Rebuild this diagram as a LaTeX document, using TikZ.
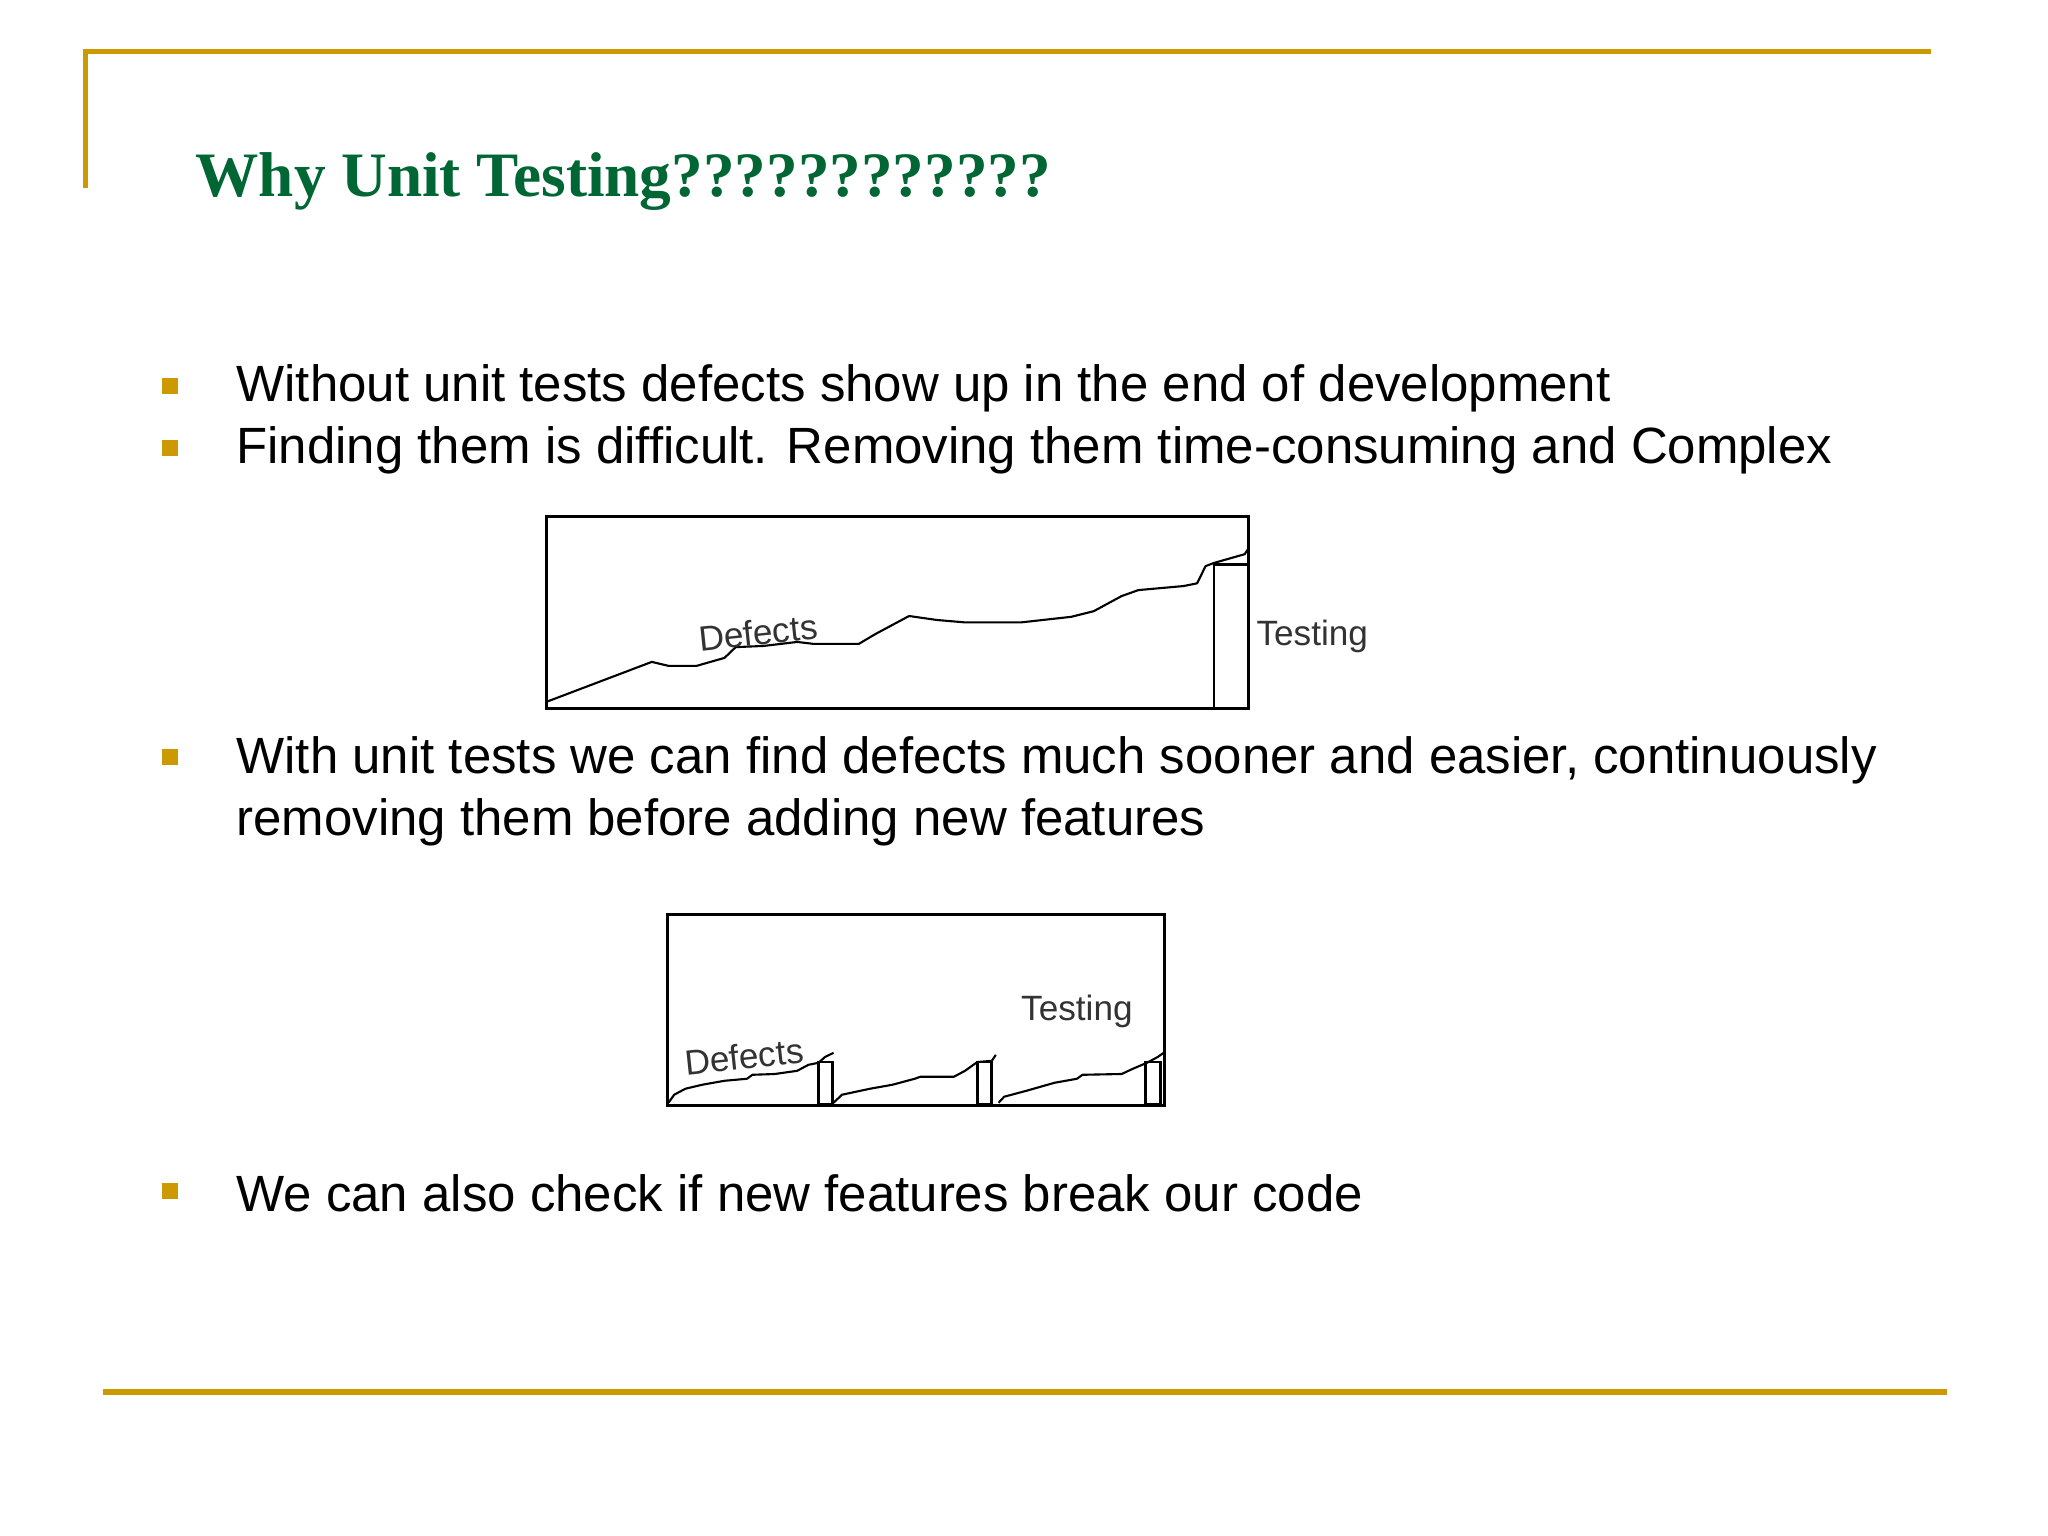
\documentclass[tikz,border=0pt]{standalone}
\usepackage{fontspec}
\setmainfont{Liberation Sans}
\newfontfamily\titlefont{Liberation Serif}
\definecolor{gold}{RGB}{204,153,0}
\definecolor{tgreen}{RGB}{0,102,51}
\begin{document}
\begin{tikzpicture}[x=0.01317cm,y=-0.01317cm,
  bul/.style={fill=gold,minimum size=0.16cm,inner sep=0pt},
  txt/.style={anchor=west,inner sep=0pt,font=\fontsize{14.5}{18}\selectfont},
  lab/.style={inner sep=0pt,font=\fontsize{10}{12}\selectfont,text=black!80},
  curve/.style={line width=0.6pt,line join=round}]
\useasboundingbox (0,0) rectangle (1555,1166);
\fill[white] (0,0) rectangle (1555,1166);
\draw[gold,line width=1.6pt] (65,143) -- (65,39) -- (1466,39);
\draw[gold,line width=1.6pt] (78,1057) -- (1478,1057);
\node[anchor=west,inner sep=0pt,text=tgreen,font=\titlefont\bfseries\fontsize{18}{22}\selectfont] (title) at (148,138) {Why Unit Testing????????????};
\node[bul] (b1) at (129,293) {};
\node[txt] (t1) at (179,295) {Without unit tests defects show up in the end of development};
\node[bul] (b2) at (129,340) {};
\node[txt] (t2) at (179,342) {Finding them is difficult. Removing them time-consuming and Complex};
\node[bul] (b3) at (129,575) {};
\node[txt] (t3) at (179,577) {With unit tests we can find defects much sooner and easier, continuously};
\node[txt] (t3b) at (179,624) {removing them before adding new features};
\node[bul] (b4) at (129,904) {};
\node[txt] (t4) at (179,906) {We can also check if new features break our code};
\begin{scope}[shift={(405.7,382.9)},xscale=0.4247,yscale=0.3029]
 \draw[line width=0.8pt] (22,30) rectangle (1277,512);
 \draw[line width=0.8pt] (1215,150) rectangle (1277,512);
 \draw[curve] (22,495)--(210,395)--(240,405)--(290,405)--(340,385)--(360,358)--(410,355)--(470,345)--(500,350)--(580,350)--(610,325)--(670,280)--(720,290)--(770,296)--(870,296)--(960,282)--(1000,268)--(1050,230)--(1080,215)--(1160,205)--(1185,198)--(1200,155)--(1215,147)--(1270,125)--(1277,110);
 \node[lab,rotate=6] (d1) at (400,322) {Defects};
 \node[lab,anchor=west] (tl1) at (1290,330) {Testing};
 \draw[line width=0.8pt] (238,1028) rectangle (1127,1507);
 \draw[line width=0.8pt] (508,1398) rectangle (533,1505);
 \draw[line width=0.8pt] (792,1398) rectangle (818,1505);
 \draw[line width=0.8pt] (1093,1398) rectangle (1120,1505);
 \draw[curve] (240,1500)--(250,1480)--(270,1465)--(300,1455)--(340,1445)--(380,1440)--(390,1430)--(430,1428)--(470,1420)--(490,1405)--(508,1400)--(520,1385)--(535,1375);
 \draw[curve] (535,1500)--(550,1480)--(600,1465)--(640,1455)--(680,1440)--(690,1435)--(750,1435)--(770,1420)--(792,1398)--(818,1395)--(825,1380);
 \draw[curve] (830,1500)--(840,1485)--(880,1470)--(930,1450)--(970,1440)--(980,1430)--(1050,1428)--(1070,1415)--(1095,1400)--(1115,1385)--(1125,1375);
 \node[lab,rotate=6] (d2) at (375,1385) {Defects};
 \node[lab] (tl2) at (970,1270) {Testing};
\end{scope}
\end{tikzpicture}
\end{document}
